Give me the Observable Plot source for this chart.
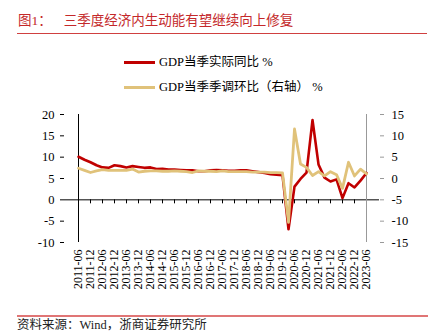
<!DOCTYPE html>
<html><head><meta charset="utf-8">
<script src="https://cdn.jsdelivr.net/npm/d3@7"></script>
<script src="https://cdn.jsdelivr.net/npm/@observablehq/plot@0.6"></script>
<style>
body{margin:0;background:#fff;}
#wrap{position:relative;width:442px;height:334px;overflow:hidden;font-family:"Liberation Serif","Noto Sans CJK SC",serif;}
#title{position:absolute;left:18px;top:11px;font-size:13.5px;color:#c4282a;white-space:nowrap;line-height:20px;}
#title .gap{display:inline-block;width:12px;}
#tline{position:absolute;left:17px;top:32.5px;width:410px;height:1px;background:#d04040;}
.leg{position:absolute;left:124px;font-size:12.5px;line-height:16px;white-space:nowrap;color:#000;}
.sw{display:inline-block;width:31px;height:3px;vertical-align:middle;margin-right:4px;position:relative;top:-1px;}
#chart{position:absolute;left:0;top:100px;}
#bline{position:absolute;left:17px;top:315px;width:411px;height:1.5px;background:#e07575;}
#src{position:absolute;left:17px;top:317px;font-size:12.5px;color:#222;line-height:16px;white-space:nowrap;}
</style></head>
<body>
<div id="wrap">
  <div id="title">图1：<span class="gap"></span>三季度经济内生动能有望继续向上修复</div>
  <div id="tline"></div>
  <div class="leg" style="top:54px"><span class="sw" style="background:#c00000"></span>GDP当季实际同比 %</div>
  <div class="leg" style="top:79px"><span class="sw" style="background:#e0c27a"></span>GDP当季季调环比（右轴） %</div>
  <div id="chart"></div>
  <div id="bline"></div>
  <div id="src">资料来源：Wind，浙商证券研究所</div>
</div>
<script>
const dates = ["2011-06","2011-09","2011-12","2012-03","2012-06","2012-09","2012-12","2013-03","2013-06","2013-09","2013-12",
"2014-03","2014-06","2014-09","2014-12","2015-03","2015-06","2015-09","2015-12","2016-03","2016-06","2016-09","2016-12",
"2017-03","2017-06","2017-09","2017-12","2018-03","2018-06","2018-09","2018-12","2019-03","2019-06","2019-09","2019-12",
"2020-03","2020-06","2020-09","2020-12","2021-03","2021-06","2021-09","2021-12","2022-03","2022-06","2022-09","2022-12",
"2023-03","2023-06"];
const yoy = [10.1,9.4,8.8,8.1,7.6,7.5,8.1,7.9,7.6,7.9,7.7,7.5,7.6,7.2,7.3,7.1,7.1,7.0,6.9,6.9,6.7,6.7,6.9,7.0,6.9,6.8,6.8,6.9,6.9,6.7,6.5,6.3,6.0,5.9,5.8,-6.9,3.1,4.9,6.4,18.7,8.3,5.2,4.3,4.8,0.4,3.9,2.9,4.5,6.3];
const qoq = [2.4,1.9,1.4,1.8,2.1,1.9,1.9,1.9,1.9,2.2,1.5,1.7,1.8,1.8,1.7,1.7,1.8,1.7,1.6,1.4,1.8,1.7,1.7,1.6,1.8,1.6,1.6,1.6,1.6,1.5,1.5,1.5,1.4,1.4,1.3,-10.3,11.6,3.4,2.6,0.7,1.6,0.6,1.6,0.9,-2.3,3.8,0.6,2.2,1.1];
const leftTicks = [20,15,10,5,0,-5,-10];
const rightTicks = [15,10,5,0,-5,-10,-15];
const rightOffset = leftTicks[0] - rightTicks[0]; // right axis value + 5 = left axis value

const rows = dates.map((d,i)=>({date:d, yoy:yoy[i], qoq:qoq[i]}));
const tickDates = dates.filter((d,i)=>i%2===0);

const chart = Plot.plot({
  width:442, height:215, marginLeft:64, marginRight:63, marginTop:14, marginBottom:73,
  style:{fontFamily:'"Liberation Serif", serif', fontSize:'12px', color:'#000', background:'transparent', overflow:'visible'},
  x:{type:'point', domain:dates, padding:0},
  y:{domain:[-10,20]},
  marks:[
    Plot.ruleY([0], {stroke:'#000', strokeWidth:1}),
    Plot.ruleX(tickDates, {x:d=>d, y1:0, y2:0, insetBottom:-4, stroke:'#000'}),
    Plot.axisX({ticks:tickDates, tickSize:0, tickPadding:7, tickRotate:-90, label:null, fill:'#000', fontSize:12}),
    Plot.axisY({ticks:leftTicks, anchor:'left', tickSize:4, tickPadding:6, label:null, stroke:'#000', fill:'#000', tickFormat:d=>String(d), fontSize:12.5}),
    Plot.ruleX([dates[0]], {y1:-10, y2:20, stroke:'#000'}),
    Plot.axisY({ticks:leftTicks, anchor:'right', tickSize:4, tickPadding:8, label:null, stroke:'#999', fill:'#000', tickFormat:v=>String(v-rightOffset), fontSize:12.5}),
    Plot.ruleX([dates[dates.length-1]], {y1:-10, y2:20, stroke:'#999'}),
    Plot.line(rows,{x:'date', y:'yoy', stroke:'#c00000', strokeWidth:2.6}),
    Plot.line(rows,{x:'date', y:d=>d.qoq+rightOffset, stroke:'#e0c27a', strokeWidth:2.8})
  ]
});
document.getElementById('chart').appendChild(chart);
</script>
</body></html>
